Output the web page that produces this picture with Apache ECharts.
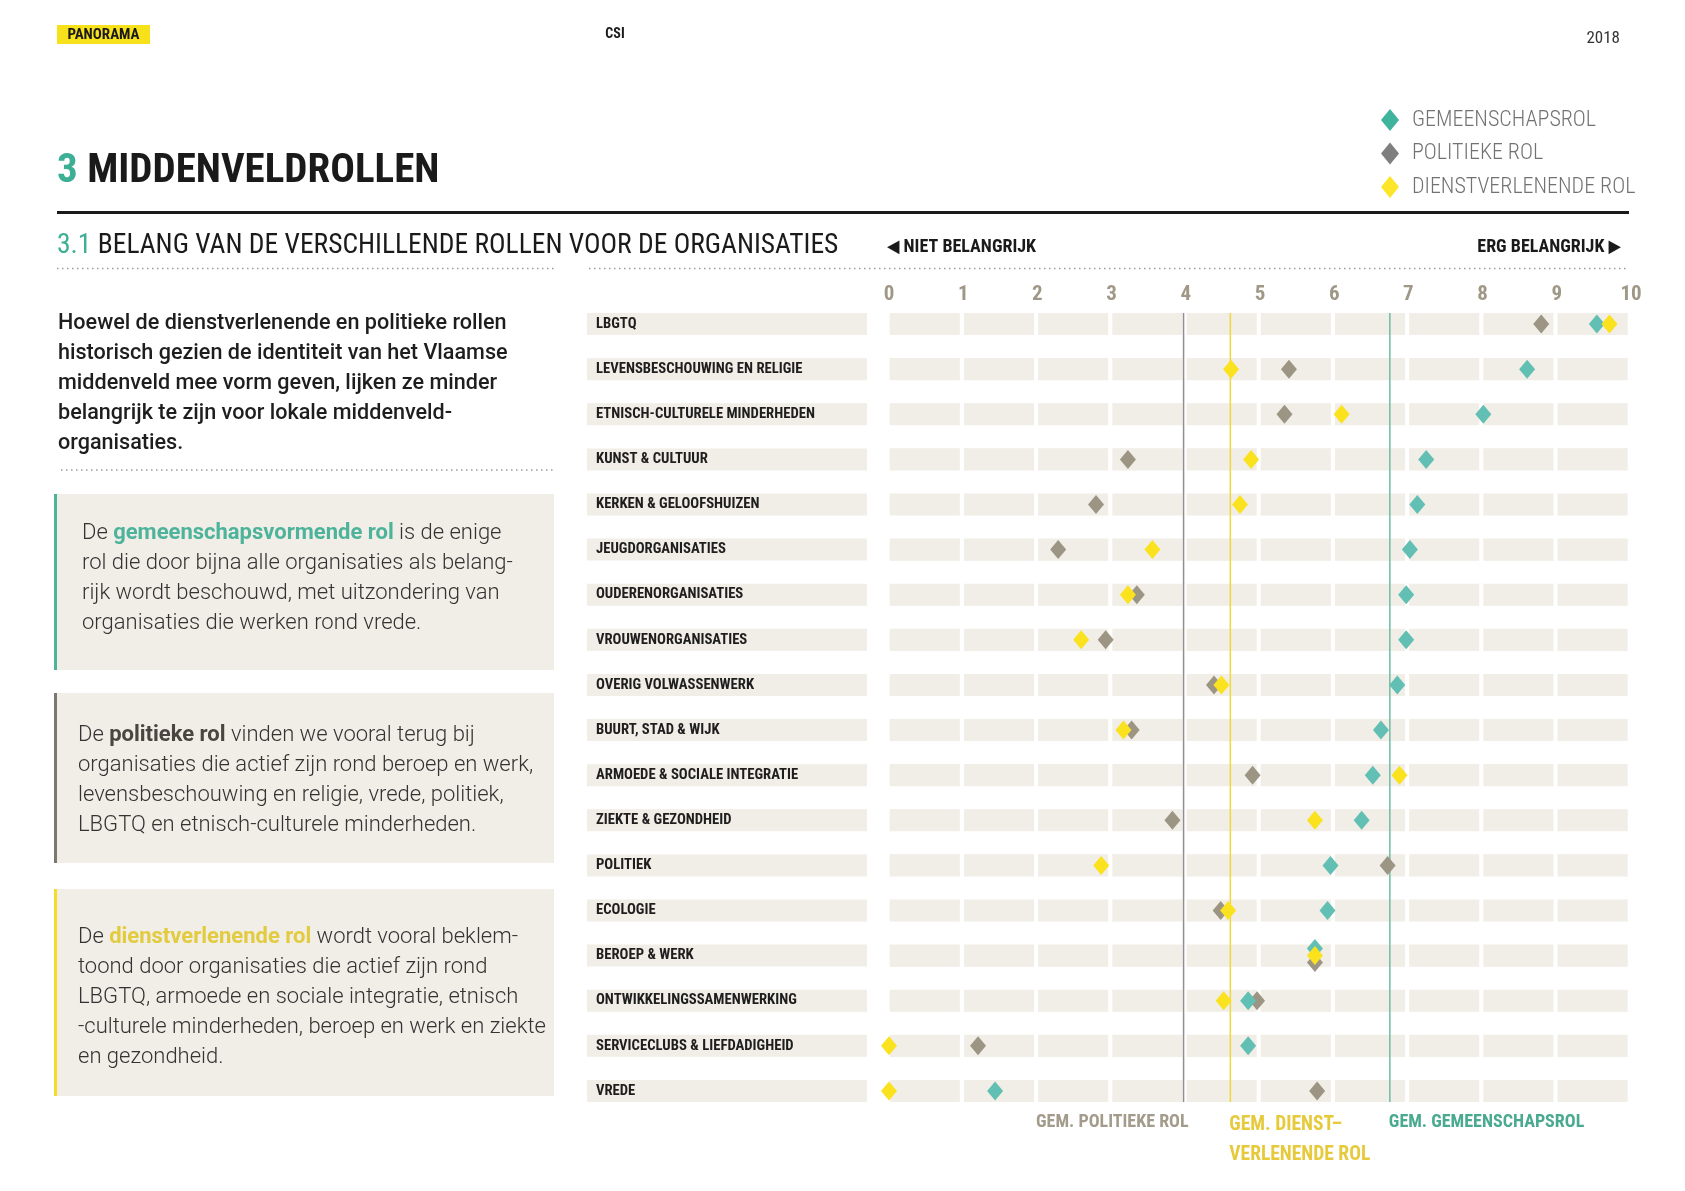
<!DOCTYPE html>
<html>
<head>
<meta charset="utf-8">
<style>html,body{margin:0;padding:0;background:#fff}#c{width:1685px;height:1191px}</style>
<script src="https://cdn.jsdelivr.net/npm/echarts@6/dist/echarts.min.js"></script>
</head>
<body>
<div id="c"></div>
<script>
// ---------- DATA ----------
const categories = ['LBGTQ','LEVENSBESCHOUWING EN RELIGIE','ETNISCH-CULTURELE MINDERHEDEN','KUNST & CULTUUR','KERKEN & GELOOFSHUIZEN','JEUGDORGANISATIES','OUDERENORGANISATIES','VROUWENORGANISATIES','OVERIG VOLWASSENWERK','BUURT, STAD & WIJK','ARMOEDE & SOCIALE INTEGRATIE','ZIEKTE & GEZONDHEID','POLITIEK','ECOLOGIE','BEROEP & WERK','ONTWIKKELINGSSAMENWERKING','SERVICECLUBS & LIEFDADIGHEID','VREDE'];
const gemeenschapsrol = [9.54, 8.60, 8.01, 7.24, 7.12, 7.02, 6.97, 6.97, 6.85, 6.63, 6.52, 6.37, 5.95, 5.91, 5.74, 4.84, 4.84, 1.43];
const politiekeRol    = [8.79, 5.39, 5.33, 3.22, 2.79, 2.28, 3.34, 2.92, 4.38, 3.27, 4.90, 3.82, 6.72, 4.47, 5.74, 4.96, 1.20, 5.77];
const dienstRol       = [9.71, 4.61, 6.10, 4.88, 4.73, 3.55, 3.22, 2.59, 4.48, 3.16, 6.88, 5.74, 2.86, 4.57, 5.74, 4.51, 0.00, 0.00];
const gemPolitiek = 3.97;
const gemDienst = 4.60;
const gemGemeenschap = 6.75;
const xTicks = [0,1,2,3,4,5,6,7,8,9,10];
const seriesNames = ['GEMEENSCHAPSROL','POLITIEKE ROL','DIENSTVERLENENDE ROL'];

// ---------- STYLE ----------
const COND = "'Roboto Condensed','Liberation Sans Narrow','DejaVu Sans Condensed',Roboto,sans-serif";
const SANS = "Roboto,'Noto Sans',sans-serif";
const CELL = '#f1ede7';
const TEAL = '#62bfb3', GRAY = '#9d9584', YELLOW = '#fbe21f';
const stackOffsets = {'BEROEP & WERK': {g: -7, p: 7, d: 0}};

function pts(vals, key){
  return vals.map((v,i)=>{
    const item = {value:[v, categories[i]]};
    const o = stackOffsets[categories[i]];
    if (o) item.symbolOffset = [0, o[key]];
    return item;
  });
}

const chart = echarts.init(document.getElementById('c'), null, {renderer:'canvas'});

const avgLines = [
  {v: gemPolitiek, color:'#8f8f8f', label:'GEM. POLITIEKE ROL', lc:'#a39b8b', align:'right', dx: 5, dy: 5.5, fs: 18},
  {v: gemDienst, color:'#f0d73a', label:'GEM. DIENST–\nVERLENENDE ROL', lc:'#e6ca3c', align:'left', dx: -1, dy: 8, fs: 19.5},
  {v: gemGemeenschap, color:'#6dbba7', label:'GEM. GEMEENSCHAPSROL', lc:'#4aaa90', align:'left', dx: -1, dy: 5.5, fs: 18}
];

const option = {
  animation:false,
  backgroundColor:'#fff',
  grid:{left:889, right:54, top:301.5, bottom:77.5, containLabel:false},
  xAxis:{
    type:'value', position:'top', min:0, max:10, interval:1,
    axisLine:{show:false}, axisTick:{show:false}, splitLine:{show:false},
    axisLabel:{margin:7, verticalAlign:'middle', color:'#a09887', fontSize:21, fontWeight:'bold', fontFamily:COND,
      formatter:v=> xTicks.includes(v) ? String(v) : ''}
  },
  yAxis:{
    type:'category', data:categories, inverse:true,
    axisLine:{show:false}, axisTick:{show:false}, splitLine:{show:false},
    axisLabel:{margin:302, align:'left', verticalAlign:'middle', color:'#1e1e1e', fontSize:14.7, fontWeight:'bold', fontFamily:COND,
      backgroundColor:CELL, width:271, height:22, lineHeight:22, padding:[0,0,0,9]}
  },
  legend:{
    orient:'vertical', left:1376, top:104, itemWidth:18, itemHeight:22, itemGap:11.5, icon:'diamond', selectedMode:false,
    data:[
      {name:seriesNames[0], itemStyle:{color:'#3fb39b'}},
      {name:seriesNames[1], itemStyle:{color:'#7f7f7f'}},
      {name:seriesNames[2], itemStyle:{color:'#fde52a'}}
    ],
    textStyle:{fontSize:22, color:'#727272', fontFamily:COND, fontWeight:300, padding:[0,0,0,8]}
  },
  series:[
    {
      type:'custom', name:'cells', silent:true, z:1,
      data: categories.map((c,i)=>[0,i]),
      renderItem:(params, api)=>{
        const idx = api.value(1);
        const h = api.size([0,1])[1]*0.49;
        const children=[];
        for(let k=0;k<xTicks.length-1;k++){
          const a = api.coord([xTicks[k]+0.01, idx]);
          const b = api.coord([xTicks[k]+0.955, idx]);
          children.push({type:'rect', shape:{x:a[0], y:a[1]-h/2, width:b[0]-a[0], height:h}, style:{fill:CELL}});
        }
        return {type:'group', children};
      }
    },
    {
      type:'custom', name:'avg', silent:true, z:2,
      data: avgLines.map((d,i)=>[d.v, 0, i]),
      renderItem:(params, api)=>{
        const d = avgLines[api.value(2)];
        const h = api.size([0,1])[1]*0.49;
        const top = api.coord([d.v, 0]);
        const bot = api.coord([d.v, categories.length-1]);
        const y0 = top[1]-h/2, y1 = bot[1]+h/2;
        return {type:'group', children:[
          {type:'line', shape:{x1:top[0], y1:y0, x2:top[0], y2:y1}, style:{stroke:d.color, lineWidth:1.5}},
          {type:'text', style:{text:d.label, x:top[0]+d.dx, y:y1+d.dy, align:d.align, verticalAlign:'top', fill:d.lc,
             fontSize:d.fs, fontWeight:'bold', fontFamily:COND, lineHeight:30}}
        ]};
      }
    },
    {type:'scatter', name:seriesNames[1], symbol:'diamond', symbolSize:[16,19], z:3, itemStyle:{color:GRAY, opacity:1}, data:pts(politiekeRol,'p')},
    {type:'scatter', name:seriesNames[0], symbol:'diamond', symbolSize:[16,19], z:4, itemStyle:{color:TEAL, opacity:1}, data:pts(gemeenschapsrol,'g')},
    {type:'scatter', name:seriesNames[2], symbol:'diamond', symbolSize:[16,19], z:5, itemStyle:{color:YELLOW, opacity:1}, data:pts(dienstRol,'d')}
  ],
  graphic:[
    {type:'rect', shape:{x:57, y:25, width:93, height:19}, style:{fill:'#f7e11b'}},
    {type:'text', style:{text:'PANORAMA', x:103.5, y:35, align:'center', verticalAlign:'middle', font:"bold 15px "+COND, fill:'#1a1a1a'}},
    {type:'text', style:{text:'CSI', x:615, y:34, align:'center', verticalAlign:'middle', font:"bold 14px "+COND, fill:'#1a1a1a'}},
    {type:'text', style:{text:'2018', x:1620, y:39, align:'right', verticalAlign:'middle', font:"17px "+COND, fill:'#333'}},
    {type:'text', style:{text:'{t|3} MIDDENVELDROLLEN', x:57, y:172, align:'left', verticalAlign:'middle', font:"bold 41px "+COND, fill:'#1a1a1a',
      rich:{t:{fill:'#3daf94', font:"bold 41px "+COND}}}},
    {type:'line', shape:{x1:57, y1:212.5, x2:1629, y2:212.5}, style:{stroke:'#1a1a1a', lineWidth:3}},
    {type:'text', style:{text:'{t|3.1} BELANG VAN DE VERSCHILLENDE ROLLEN VOOR DE ORGANISATIES', x:57, y:246, align:'left', verticalAlign:'middle', font:"27.5px "+COND, fill:'#1a1a1a',
      rich:{t:{fill:'#3daf94', font:"27.5px "+COND}}}},
    {type:'text', style:{text:'◀ NIET BELANGRIJK', x:887, y:247, align:'left', verticalAlign:'middle', font:"bold 18px "+COND, fill:'#1a1a1a'}},
    {type:'text', style:{text:'ERG BELANGRIJK ▶', x:1621, y:247, align:'right', verticalAlign:'middle', font:"bold 18px "+COND, fill:'#1a1a1a'}},
    {type:'line', shape:{x1:57, y1:268.5, x2:556, y2:268.5}, style:{stroke:'#9a9a9a', lineWidth:1.5, lineDash:[1.5,3.5]}},
    {type:'line', shape:{x1:589, y1:268.5, x2:1629, y2:268.5}, style:{stroke:'#9a9a9a', lineWidth:1.5, lineDash:[1.5,3.5]}},
    {type:'text', style:{text:'Hoewel de dienstverlenende en politieke rollen\nhistorisch gezien de identiteit van het Vlaamse\nmiddenveld mee vorm geven, lijken ze minder\nbelangrijk te zijn voor lokale middenveld-\norganisaties.',
      x:58, y:309, align:'left', verticalAlign:'top', lineHeight:30, font:"500 21.6px "+SANS, fill:'#1e1e1e'}},
    {type:'line', shape:{x1:61, y1:470, x2:554, y2:470}, style:{stroke:'#9a9a9a', lineWidth:1.5, lineDash:[1.5,3.5]}},
    // box 1
    {type:'rect', shape:{x:54, y:494, width:500, height:176}, style:{fill:CELL}},
    {type:'rect', shape:{x:54, y:494, width:3, height:176}, style:{fill:'#4db39a'}},
    {type:'text', style:{text:'De {b|gemeenschapsvormende rol} is de enige\nrol die door bijna alle organisaties als belang-\nrijk wordt beschouwd, met uitzondering van\norganisaties die werken rond vrede.',
      x:82, y:518, align:'left', verticalAlign:'top', lineHeight:30, font:"300 22px "+SANS, fill:'#333',
      rich:{b:{font:"bold 22px "+SANS, fill:'#4db39a', lineHeight:30}}}},
    // box 2
    {type:'rect', shape:{x:54, y:693, width:500, height:170}, style:{fill:CELL}},
    {type:'rect', shape:{x:54, y:693, width:3, height:170}, style:{fill:'#7d7771'}},
    {type:'text', style:{text:'De {b|politieke rol} vinden we vooral terug bij\norganisaties die actief zijn rond beroep en werk,\nlevensbeschouwing en religie, vrede, politiek,\nLBGTQ en etnisch-culturele minderheden.',
      x:78, y:720, align:'left', verticalAlign:'top', lineHeight:30, font:"300 22px "+SANS, fill:'#333',
      rich:{b:{font:"bold 22px "+SANS, fill:'#4a4540', lineHeight:30}}}},
    // box 3
    {type:'rect', shape:{x:54, y:889, width:500, height:207}, style:{fill:CELL}},
    {type:'rect', shape:{x:54, y:889, width:3, height:207}, style:{fill:'#f3dc2a'}},
    {type:'text', style:{text:'De {b|dienstverlenende rol} wordt vooral beklem-\ntoond door organisaties die actief zijn rond\nLBGTQ, armoede en sociale integratie, etnisch\n-culturele minderheden, beroep en werk en ziekte\nen gezondheid.',
      x:78, y:922, align:'left', verticalAlign:'top', lineHeight:30, font:"300 22px "+SANS, fill:'#333',
      rich:{b:{font:"bold 22px "+SANS, fill:'#e2cb3e', lineHeight:30}}}}
  ]
};
chart.setOption(option);
</script>
</body>
</html>
